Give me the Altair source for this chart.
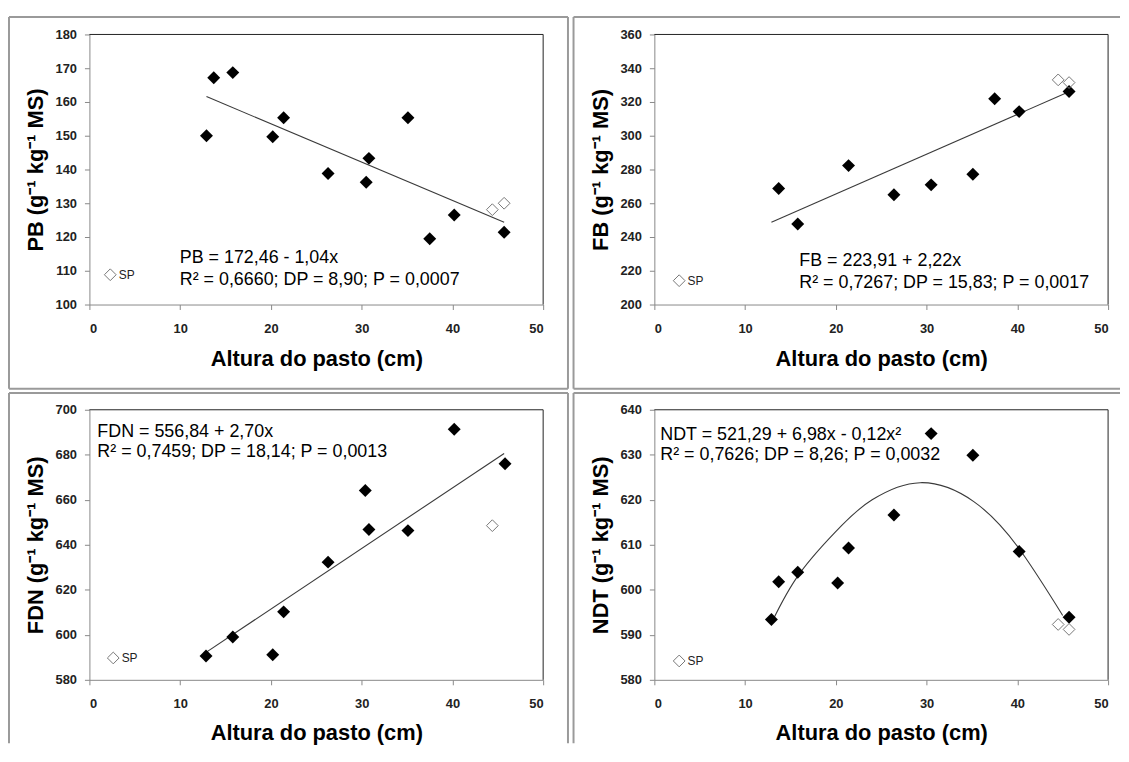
import altair as alt
import pandas as pd

FONT = "Liberation Sans, Arial, sans-serif"

# ---------------- data ----------------
x_ticks = [0, 10, 20, 30, 40, 50]
x_title = "Altura do pasto (cm)"

# PB
pb_x = [12.9, 13.7, 15.8, 20.2, 21.4, 26.3, 30.5, 30.8, 35.1, 37.5, 40.2, 45.7]
pb_y = [150.0, 167.2, 168.7, 149.7, 155.3, 138.8, 136.2, 143.3, 155.3, 119.5, 126.5, 121.4]
pb_sp_x = [44.4, 45.7]
pb_sp_y = [128.1, 130.0]
pb_fit_x = [12.9, 45.7]
pb_fit_y = [161.6, 124.4]
pb_ticks = [100, 110, 120, 130, 140, 150, 160, 170, 180]
pb_title = "PB (g⁻¹ kg⁻¹ MS)"
pb_eq = ["PB = 172,46 - 1,04x", "R² = 0,6660; DP = 8,90; P = 0,0007"]

# FB
fb_x = [13.7, 15.8, 21.4, 26.4, 30.5, 35.1, 37.5, 40.2, 45.7]
fb_y = [268.7, 247.7, 282.3, 265.0, 270.9, 277.2, 321.9, 314.3, 326.2]
fb_sp_x = [44.5, 45.7]
fb_sp_y = [333.1, 331.5]
fb_fit_x = [12.9, 45.5]
fb_fit_y = [248.7, 325.6]
fb_ticks = [200, 220, 240, 260, 280, 300, 320, 340, 360]
fb_title = "FB (g⁻¹ kg⁻¹ MS)"
fb_eq = ["FB = 223,91 + 2,22x", "R² = 0,7267; DP = 15,83; P = 0,0017"]

# FDN
fdn_x = [12.85, 15.8, 20.2, 21.4, 26.3, 30.4, 30.8, 35.1, 40.2, 45.8]
fdn_y = [590.6, 599.0, 591.1, 610.2, 632.3, 664.1, 646.8, 646.3, 691.3, 676.0]
fdn_sp_x = [44.4]
fdn_sp_y = [648.5]
fdn_fit_x = [12.85, 45.7]
fdn_fit_y = [592.2, 680.6]
fdn_ticks = [580, 600, 620, 640, 660, 680, 700]
fdn_title = "FDN (g⁻¹ kg⁻¹ MS)"
fdn_eq = ["FDN = 556,84 + 2,70x", "R² = 0,7459; DP = 18,14; P = 0,0013"]

# NDT
ndt_x = [12.9, 13.7, 15.8, 20.2, 21.4, 26.4, 30.5, 35.1, 40.2, 45.7]
ndt_y = [593.4, 601.8, 603.9, 601.5, 609.3, 616.6, 634.7, 629.9, 608.5, 593.9]
ndt_sp_x = [44.5, 45.7]
ndt_sp_y = [592.3, 591.2]
ndt_fit_x = [12.9, 16.0, 20.6, 24.0, 29.3, 35.2, 40.1, 45.0]
ndt_fit_y = [592.6, 603.6, 614.2, 620.0, 623.8, 619.6, 609.4, 594.3]
ndt_ticks = [580, 590, 600, 610, 620, 630, 640]
ndt_title = "NDT (g⁻¹ kg⁻¹ MS)"
ndt_eq = ["NDT = 521,29 + 6,98x - 0,12x²", "R² = 0,7626; DP = 8,26; P = 0,0032"]

legend_label = "SP"

W, H = 457, 272
dummy = pd.DataFrame({"d": [0]})


def rule(x, y, x2=None, y2=None, color="#9a9a9a", width=2):
    enc = {"x": alt.value(x), "y": alt.value(y)}
    if x2 is not None:
        enc["x2"] = alt.value(x2)
    if y2 is not None:
        enc["y2"] = alt.value(y2)
    return alt.Chart(dummy).mark_rule(color=color, strokeWidth=width).encode(**enc)


def panel(x, y, spx, spy, fitx, fity, yticks, ytitle, eq, eq_pos, eq_lh,
          leg_pos, smooth, xpad, frame):
    pts = pd.DataFrame({"x": x, "y": y})
    sp = pd.DataFrame({"x": spx, "y": spy, "g": [legend_label] * len(spx)})
    fit = pd.DataFrame({"x": fitx, "y": fity})

    xenc = alt.X("x:Q", scale=alt.Scale(domain=[x_ticks[0], x_ticks[-1]], nice=False, zero=False),
                 axis=alt.Axis(values=x_ticks, title=x_title, titlePadding=xpad))
    yenc = alt.Y("y:Q", scale=alt.Scale(domain=[yticks[0], yticks[-1]], nice=False, zero=False),
                 axis=alt.Axis(values=yticks, title=ytitle))

    layers = []
    for r in frame:
        layers.append(rule(*r))
    layers.append(rule(0, 0, x2=W, color="#222", width=1))
    layers.append(rule(W, 0, y2=H, color="#222", width=1))

    line = alt.Chart(fit).mark_line(
        color="#3a3a3a", strokeWidth=1.1,
        interpolate="natural" if smooth else "linear"
    ).encode(x=xenc, y=yenc)
    filled = alt.Chart(pts).mark_point(
        shape="diamond", filled=True, color="black", size=170, opacity=1
    ).encode(x=xenc, y=yenc)
    opened = alt.Chart(sp).mark_point(
        filled=False, color="#777", strokeWidth=1, size=140, opacity=1
    ).encode(
        x=xenc, y=yenc,
        shape=alt.Shape("g:N", scale=alt.Scale(domain=[legend_label], range=["diamond"]),
                        legend=alt.Legend(title=None, orient="none",
                                          legendX=leg_pos[0], legendY=leg_pos[1],
                                          symbolSize=140, symbolStrokeWidth=1,
                                          symbolStrokeColor="#777", symbolOpacity=1,
                                          labelFont=FONT, labelFontSize=12, labelColor="#222",
                                          labelOffset=2, padding=0))
    )
    text = alt.Chart(dummy).mark_text(
        align="left", baseline="alphabetic", font=FONT, fontSize=18,
        color="black", lineHeight=eq_lh
    ).encode(x=alt.value(eq_pos[0]), y=alt.value(eq_pos[1]), text=alt.value(eq))

    layers += [line, filled, opened, text]
    return alt.layer(*layers).properties(width=W, height=H)


tl = panel(pb_x, pb_y, pb_sp_x, pb_sp_y, pb_fit_x, pb_fit_y, pb_ticks, pb_title,
           pb_eq, (91, 230), 22, (14.5, 235.5), False, 13,
           [(-81, -17.7, None, 356.8), (-81, -17.7, 482, None),
            (482, -17.7, None, 356.8), (-81, 356.8, 482, None)])
tr = panel(fb_x, fb_y, fb_sp_x, fb_sp_y, fb_fit_x, fb_fit_y, fb_ticks, fb_title,
           fb_eq, (146, 233), 22, (18.5, 241.5), False, 13,
           [(-81.4, -17.7, None, 356.8), (-81.4, -17.7, 469, None),
            (-81.4, 356.8, 469, None)])
bl = panel(fdn_x, fdn_y, fdn_sp_x, fdn_sp_y, fdn_fit_x, fdn_fit_y, fdn_ticks, fdn_title,
           fdn_eq, (8, 27), 21, (17.5, 243.5), False, 12,
           [(-81, -16.8, None, 336), (-81, -16.8, 482, None), (482, -16.8, None, 336)])
br = panel(ndt_x, ndt_y, ndt_sp_x, ndt_sp_y, ndt_fit_x, ndt_fit_y, ndt_ticks, ndt_title,
           ndt_eq, (6, 30), 21, (18.5, 246.5), True, 12,
           [(-81.4, -16.8, None, 336), (-81.4, -16.8, 469, None)])

row1 = alt.hconcat(tl, tr, spacing=3).resolve_scale(shape="independent")
row2 = alt.hconcat(bl, br, spacing=3).resolve_scale(shape="independent")

chart = alt.vconcat(row1, row2, spacing=2).resolve_scale(shape="independent").properties(
    padding={"left": 0, "top": 5, "right": 0, "bottom": 0},
    background="white",
).configure_view(stroke=None).configure_axis(
    grid=False, domainColor="#888", tickColor="#888", tickSize=5,
    labelFont=FONT, labelFontSize=13, labelFontWeight="bold", labelColor="#222",
    titleFont=FONT, titleFontSize=22, titleFontWeight="bold", titleColor="black",
).configure_axisX(labelPadding=13).configure_axisY(labelPadding=8, titlePadding=8)

chart.save("out.html", embed_options={"renderer": "svg", "actions": False})
